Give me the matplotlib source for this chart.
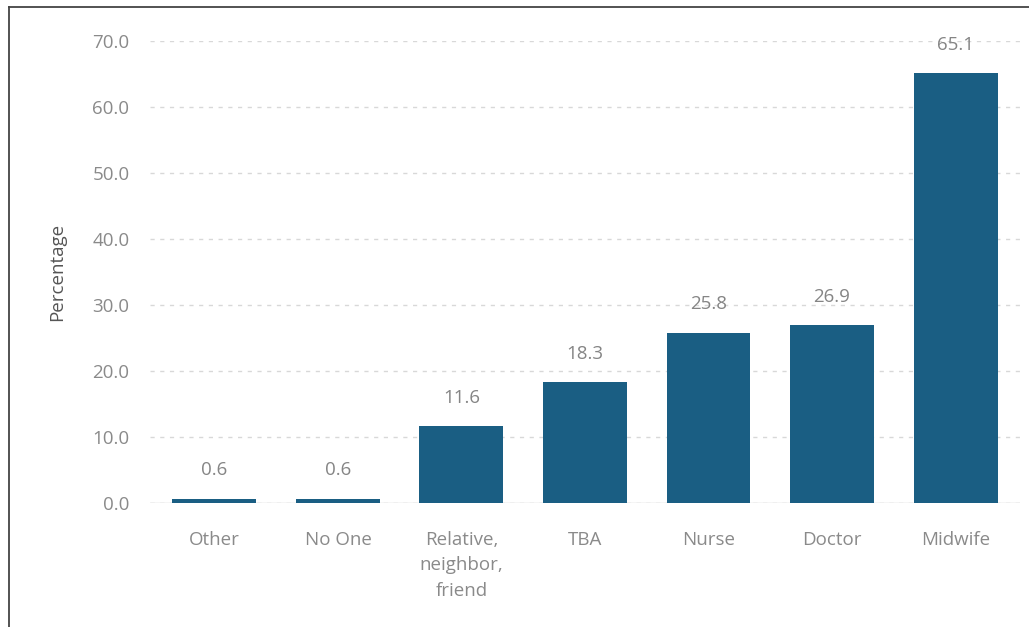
import matplotlib
matplotlib.use("Agg")
import matplotlib.pyplot as plt
from matplotlib.lines import Line2D

# who assisted at delivery
categories = ["Other", "No One", "Relative,\nneighbor,\nfriend", "TBA", "Nurse", "Doctor", "Midwife"]
values = [0.6, 0.6, 11.6, 18.3, 25.8, 26.9, 65.1]
yticks = [0, 10, 20, 30, 40, 50, 60, 70]

plt.rcParams['font.family'] = ['Open Sans', 'DejaVu Sans']

fig = plt.figure(figsize=(10.29, 6.27), dpi=100)
ax = fig.add_axes([0.146, 0.198, 0.845, 0.737])

x = range(len(categories))
bars = ax.bar(x, values, width=0.68, color='#1A5E83', zorder=3)

for b, v in zip(bars, values):
    ax.annotate(f"{v:.1f}", (b.get_x() + b.get_width() / 2, v),
                xytext=(0, 14), textcoords='offset points',
                ha='center', va='bottom', fontsize=13.5, color='#858585')

ax.set_ylim(0, 70)
ax.set_xlim(-0.52, 6.52)
ax.set_yticks(yticks)
ax.set_yticklabels([f"{t:.1f}" for t in yticks])
ax.set_xticks(list(x))
ax.set_xticklabels(categories, linespacing=1.55)

ax.grid(axis='y', linestyle=(0, (3, 4)), color='#D8D8D8', linewidth=1, zorder=0)
ax.axhline(0, color='#CFCFCF', linewidth=1, zorder=2)
for s in ax.spines.values():
    s.set_visible(False)
ax.tick_params(axis='both', length=0, labelsize=13.5, colors='#8A8A8A')
ax.tick_params(axis='x', pad=20)
ax.tick_params(axis='y', pad=15)

ax.set_ylabel("Percentage", fontsize=13.5, color='#555555', labelpad=19)

# frame lines along the top and left edge
fig.add_artist(Line2D([9 / 1029, 9 / 1029], [0, 1 - 7 / 627], transform=fig.transFigure,
                      color='#444444', linewidth=1.3))
fig.add_artist(Line2D([9 / 1029, 1], [1 - 7 / 627, 1 - 7 / 627], transform=fig.transFigure,
                      color='#444444', linewidth=1.3))

fig.savefig("out.png", dpi=100)
